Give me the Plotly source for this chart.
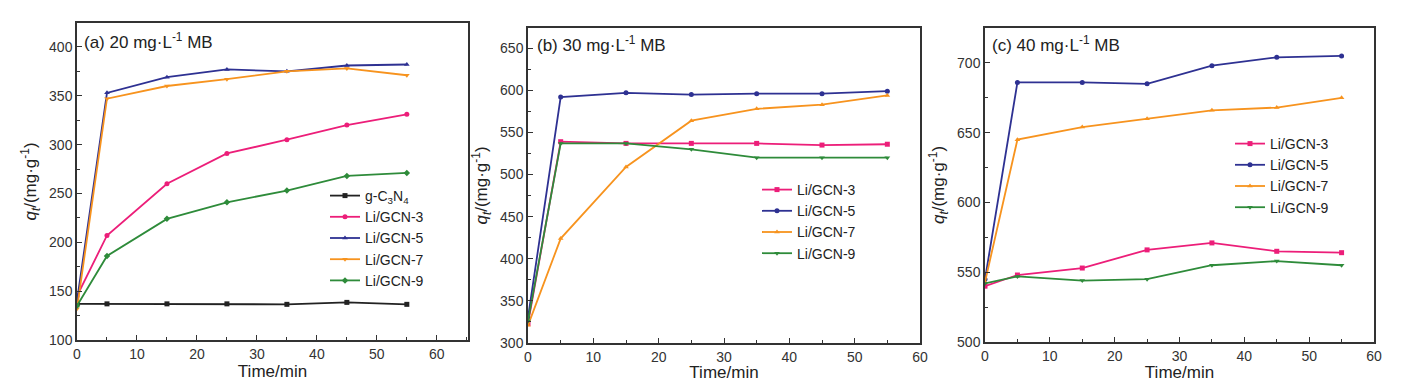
import plotly.graph_objects as go

time = [0, 5, 15, 25, 35, 45, 55]

# Panel (a) 20 mg/L MB
a_gcn = [137, 137, 137, 137, 136.5, 138.5, 136.5]
a_li3 = [145, 207, 260, 291, 305, 320, 331]
a_li5 = [140, 353, 369, 377, 375, 381, 382]
a_li7 = [132, 347, 360, 367, 375, 378, 371]
a_li9 = [135, 186, 224, 241, 253, 268, 271]

# Panel (b) 30 mg/L MB
b_li3 = [323, 539, 537, 537, 537, 535, 536]
b_li5 = [330, 592, 597, 595, 596, 596, 599]
b_li7 = [321, 424, 509, 564, 578, 583, 594]
b_li9 = [326, 537, 537, 530, 520, 520, 520]

# Panel (c) 40 mg/L MB
c_li3 = [540, 548, 553, 566, 571, 565, 564]
c_li5 = [545, 686, 686, 685, 698, 704, 705]
c_li7 = [543, 645, 654, 660, 666, 668, 675]
c_li9 = [542, 547, 544, 545, 555, 558, 555]

names_a = ["g-C<sub>3</sub>N<sub>4</sub>", "Li/GCN-3", "Li/GCN-5", "Li/GCN-7", "Li/GCN-9"]
names_bc = ["Li/GCN-3", "Li/GCN-5", "Li/GCN-7", "Li/GCN-9"]
panel_titles = ["(a) 20 mg·L<sup>-1</sup> MB", "(b) 30 mg·L<sup>-1</sup> MB", "(c) 40 mg·L<sup>-1</sup> MB"]

BLACK = "#222222"
PINK = "#EC1E79"
BLUE = "#2E3192"
ORANGE = "#F7931E"
GREEN = "#2E8B3A"

FONT = "Liberation Sans, Arial, sans-serif"
# the page body has an 8px margin; size the figure to fit the 1401x390 window
OFF = 8
W, H = 1401 - 2 * OFF, 390 - 2 * OFF

fig = go.Figure()

def add(x, y, name, color, symbol, xa, ya, leg):
    fig.add_trace(go.Scatter(
        x=x, y=y, name=name, mode="lines+markers",
        line=dict(color=color, width=1.8),
        marker=dict(color=color, symbol=symbol, size=5),
        xaxis=xa, yaxis=ya, legend=leg))

add(time, a_gcn, names_a[0], BLACK, "square", "x", "y", "legend")
add(time, a_li3, names_a[1], PINK, "circle", "x", "y", "legend")
add(time, a_li5, names_a[2], BLUE, "triangle-up", "x", "y", "legend")
add(time, a_li7, names_a[3], ORANGE, "triangle-down", "x", "y", "legend")
add(time, a_li9, names_a[4], GREEN, "diamond", "x", "y", "legend")

for series, xa, ya, leg in [((b_li3, b_li5, b_li7, b_li9), "x2", "y2", "legend2"),
                            ((c_li3, c_li5, c_li7, c_li9), "x3", "y3", "legend3")]:
    for vals, nm, col, sym in zip(series, names_bc, [PINK, BLUE, ORANGE, GREEN],
                                  ["square", "circle", "triangle-up", "triangle-down"]):
        add(time, vals, nm, col, sym, xa, ya, leg)

def px_x(p):
    return (p - OFF) / W

def px_y(p):
    return 1 - (p - OFF) / H

axis_common = dict(
    showline=True, mirror=True, linecolor="#333333", linewidth=1.5,
    ticks="inside", ticklen=5, tickwidth=1.2, tickcolor="#333333",
    showgrid=False, zeroline=False, automargin=False,
    tickfont=dict(family=FONT, size=14, color="#333333"),
)

ytitle = "<i>q</i><sub><i>t</i></sub>/(mg·g<sup>-1</sup>)"

# geometry of the three plot areas (window pixels)
geo = [
    dict(l=77, r=468, t=23, b=340, xr=[0, 65.2], yr=[100, 424.5]),
    dict(l=528, r=920, t=28, b=343, xr=[0, 60], yr=[300, 674]),
    dict(l=985, r=1374, t=28, b=342, xr=[0, 60], yr=[500, 725]),
]

layout = dict(
    width=W, height=H, margin=dict(l=0, r=0, t=0, b=0, autoexpand=False),
    paper_bgcolor="white", plot_bgcolor="white",
    font=dict(family=FONT, size=14, color="#222222"),
    showlegend=True,
)

for i, g in enumerate(geo):
    sx = "" if i == 0 else str(i + 1)
    layout["xaxis" + sx] = dict(
        axis_common, domain=[px_x(g["l"]), px_x(g["r"])], range=g["xr"],
        anchor="y" + sx, dtick=10, tick0=0,
        minor=dict(ticks="inside", ticklen=3, dtick=5, tickcolor="#333333"),
        title=dict(text="Time/min", font=dict(family=FONT, size=17), standoff=4),
    )
    layout["yaxis" + sx] = dict(
        axis_common, domain=[px_y(g["b"]), px_y(g["t"])], range=g["yr"],
        anchor="x" + sx, dtick=50, tick0=0,
        minor=dict(ticks="inside", ticklen=3, dtick=25, tickcolor="#333333"),
        title=dict(text=ytitle, font=dict(family=FONT, size=17), standoff=8),
    )

leg_common = dict(
    bgcolor="rgba(0,0,0,0)", borderwidth=0,
    font=dict(family=FONT, size=14, color="#222222"),
    xanchor="left", yanchor="top", itemwidth=30, tracegroupgap=0,
)
layout["legend"] = dict(leg_common, x=px_x(325), y=px_y(180))
layout["legend2"] = dict(leg_common, x=px_x(757), y=px_y(174))
layout["legend3"] = dict(leg_common, x=px_x(1230), y=px_y(128))

annotations = []
ann_pos = [(82, 41), (535, 44), (990, 44)]
for txt, (ax, ay) in zip(panel_titles, ann_pos):
    annotations.append(dict(
        text=txt, xref="paper", yref="paper", x=px_x(ax), y=px_y(ay),
        xanchor="left", yanchor="middle", showarrow=False,
        font=dict(family=FONT, size=17, color="#222222")))
layout["annotations"] = annotations

fig.update_layout(layout)
fig.write_html("out.html")
